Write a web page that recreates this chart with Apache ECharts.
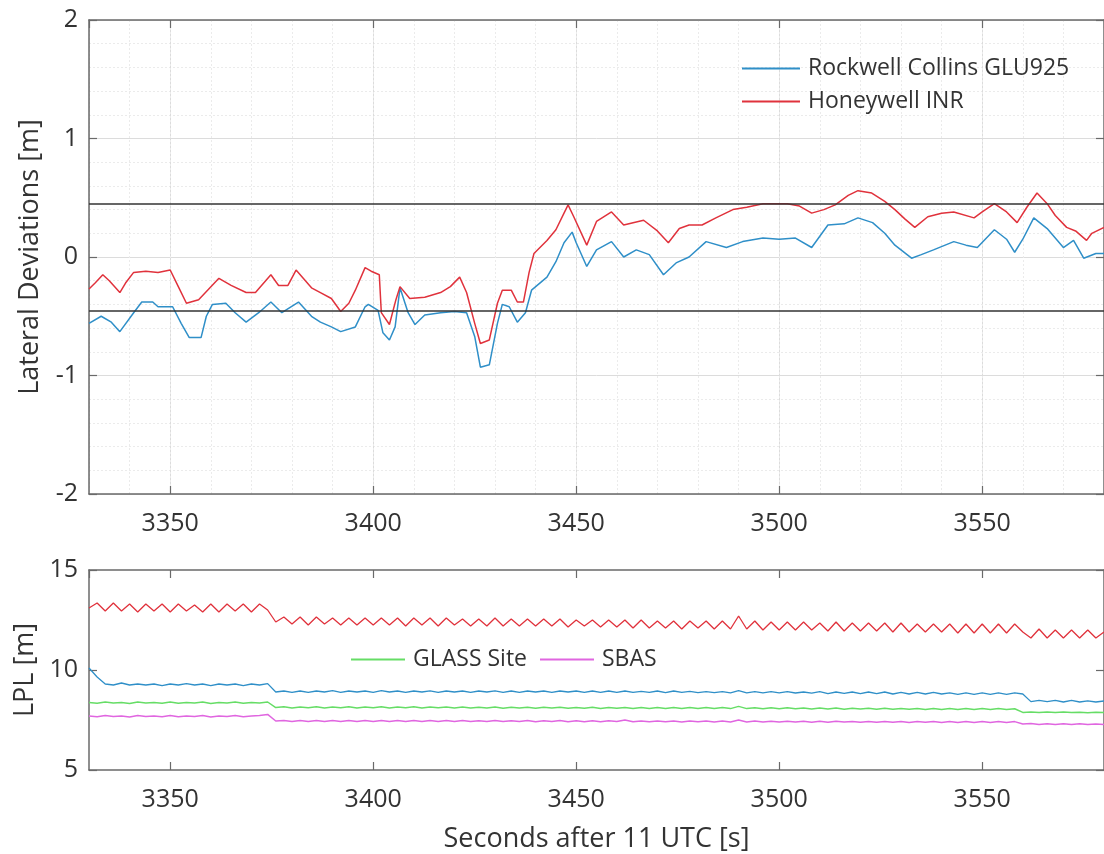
<!DOCTYPE html>
<html>
<head>
<meta charset="utf-8">
<title>Lateral Deviations / LPL</title>
<script src="https://cdn.jsdelivr.net/npm/echarts@6.0.0/dist/echarts.min.js"></script>
<style>
  html, body { margin: 0; padding: 0; background: #fff; }
  #chart { width: 1104px; height: 854px; }
</style>
</head>
<body>
<div id="chart"></div>
<script>
// lateral deviations, top panel [s] / [m]
const devTimeBlue = [3330,3333,3335.5,3337.6,3341,3343,3345.7,3347,3350.6,3352.7,3354.7,3357.6,3358.9,3360.4,3363.7,3366,3368.7,3371.8,3374.8,3377.5,
  3381.6,3384.8,3387,3389.7,3392,3395.6,3398,3398.8,3401.2,3402.4,3404,3405.4,3406.6,3408.6,3410.3,3412.7,3416.6,3420,3423,3425,
  3426.4,3428.6,3430.6,3431.8,3433.5,3435.5,3437.5,3439,3442.8,3445,3447,3449,3450,3452.6,3455,3458.7,3461.7,3464.8,3468,3471.5,
  3474.6,3477.8,3482,3487,3491,3496,3500,3504,3508,3512,3516,3519.4,3523,3526,3528.5,3532.6,3535,3538,3543,3546,
  3548.8,3553,3556,3558,3560,3562.7,3566,3570,3572.5,3575,3578,3580]
const devBlue = [-0.56,-0.50,-0.55,-0.63,-0.47,-0.38,-0.38,-0.42,-0.42,-0.56,-0.68,-0.68,-0.50,-0.40,-0.39,-0.47,-0.55,-0.47,-0.38,-0.47,
  -0.38,-0.50,-0.55,-0.59,-0.63,-0.59,-0.42,-0.40,-0.45,-0.64,-0.70,-0.59,-0.26,-0.47,-0.57,-0.49,-0.47,-0.46,-0.47,-0.67,
  -0.93,-0.91,-0.56,-0.40,-0.42,-0.55,-0.47,-0.28,-0.17,-0.04,0.12,0.21,0.12,-0.08,0.06,0.13,0.00,0.06,0.02,-0.15,
  -0.05,0.00,0.13,0.08,0.13,0.16,0.15,0.16,0.08,0.27,0.28,0.33,0.29,0.20,0.10,-0.01,0.02,0.06,0.13,0.10,
  0.08,0.23,0.15,0.04,0.15,0.33,0.24,0.08,0.14,-0.01,0.03,0.03]

const devTimeRed = [3330,3331.5,3333.4,3335,3337.6,3339,3341,3344,3347,3350,3352,3354,3357,3359.5,3362,3365,3368.7,3371,3374.8,3376.7,
  3379,3381,3384.8,3387,3389.7,3392,3394,3395.6,3398,3399.5,3401.5,3402,3404,3405.6,3406.6,3409,3412.7,3416.6,3419,3421.3,
  3423,3425,3426.4,3428.6,3430.6,3431.8,3434,3435.5,3437,3438.4,3439.6,3442.8,3445,3447,3448,3449.4,3452.6,3455,3458.7,3461.7,
  3466.6,3470,3472.7,3475.4,3477.8,3481,3484.4,3488.6,3492,3496,3502,3505,3508,3511,3513.8,3517,3519.4,3522.8,3526,3528.5,
  3531,3533.4,3536.6,3540,3543,3548,3550,3553,3556,3558.6,3561,3563.5,3566,3568,3570.8,3573,3575.7,3577,3580]
const devRed = [-0.27,-0.22,-0.15,-0.20,-0.30,-0.22,-0.13,-0.12,-0.13,-0.11,-0.25,-0.39,-0.36,-0.27,-0.18,-0.24,-0.30,-0.30,-0.15,-0.24,
  -0.24,-0.11,-0.26,-0.30,-0.35,-0.46,-0.39,-0.28,-0.09,-0.12,-0.15,-0.47,-0.57,-0.36,-0.25,-0.35,-0.34,-0.30,-0.25,-0.17,
  -0.30,-0.56,-0.73,-0.70,-0.39,-0.28,-0.28,-0.38,-0.38,-0.13,0.03,0.14,0.23,0.37,0.44,0.34,0.10,0.30,0.38,0.27,
  0.31,0.22,0.12,0.24,0.27,0.27,0.33,0.40,0.42,0.45,0.45,0.43,0.37,0.40,0.44,0.52,0.56,0.54,0.47,0.40,
  0.32,0.25,0.34,0.37,0.38,0.33,0.38,0.45,0.38,0.29,0.42,0.54,0.45,0.35,0.25,0.22,0.14,0.20,0.25]

// limits drawn as black lines
const alertLimits = [0.45, -0.45]

// LPL, bottom panel
const lplTime = [3330,3332,3334,3336,3338,3340,3342,3344,3346,3348,
  3350,3352,3354,3356,3358,3360,3362,3364,3366,3368,
  3370,3372,3374,3376,3378,3380,3382,3384,3386,3388,
  3390,3392,3394,3396,3398,3400,3402,3404,3406,3408,
  3410,3412,3414,3416,3418,3420,3422,3424,3426,3428,
  3430,3432,3434,3436,3438,3440,3442,3444,3446,3448,
  3450,3452,3454,3456,3458,3460,3462,3464,3466,3468,
  3470,3472,3474,3476,3478,3480,3482,3484,3486,3488,
  3490,3492,3494,3496,3498,3500,3502,3504,3506,3508,
  3510,3512,3514,3516,3518,3520,3522,3524,3526,3528,
  3530,3532,3534,3536,3538,3540,3542,3544,3546,3548,
  3550,3552,3554,3556,3558,3560,3562,3564,3566,3568,
  3570,3572,3574,3576,3578,3580]
const lplRed = [13.1,13.35,12.95,13.35,12.95,13.3,12.9,13.3,12.95,13.3,
  12.9,13.3,12.95,13.25,12.9,13.3,12.9,13.3,12.95,13.3,
  12.9,13.3,13.0,12.4,12.65,12.3,12.65,12.25,12.65,12.3,
  12.6,12.25,12.6,12.25,12.6,12.25,12.6,12.25,12.6,12.2,
  12.6,12.25,12.6,12.2,12.6,12.25,12.55,12.2,12.55,12.2,
  12.6,12.2,12.55,12.2,12.55,12.2,12.55,12.2,12.55,12.15,
  12.5,12.2,12.5,12.15,12.5,12.15,12.5,12.1,12.5,12.1,
  12.45,12.1,12.45,12.05,12.45,12.1,12.45,12.05,12.45,12.05,
  12.7,12.05,12.45,12.0,12.4,12.0,12.4,12.0,12.4,12.0,
  12.35,11.95,12.4,11.95,12.35,11.95,12.35,11.95,12.35,11.9,
  12.35,11.9,12.3,11.9,12.3,11.9,12.3,11.85,12.3,11.85,
  12.3,11.85,12.3,11.85,12.3,11.9,11.6,12.05,11.6,12.0,
  11.6,12.0,11.6,12.0,11.6,11.9]
const lplBlue = [10.1,9.65,9.3,9.25,9.35,9.25,9.3,9.25,9.3,9.22,
  9.3,9.25,9.32,9.25,9.3,9.22,9.3,9.25,9.3,9.22,
  9.3,9.25,9.32,8.9,8.95,8.88,8.95,8.88,8.95,8.9,
  8.97,8.88,8.95,8.9,8.95,8.88,8.97,8.9,8.95,8.88,
  8.95,8.9,8.96,8.88,8.95,8.9,8.95,8.88,8.95,8.9,
  8.96,8.88,8.95,8.88,8.95,8.9,8.95,8.88,8.95,8.9,
  8.95,8.88,8.95,8.88,8.95,8.88,8.95,8.88,8.93,8.88,
  8.95,8.87,8.95,8.88,8.93,8.87,8.92,8.87,8.92,8.86,
  8.97,8.86,8.92,8.86,8.92,8.86,8.92,8.85,8.9,8.84,
  8.92,8.82,8.9,8.83,8.9,8.82,8.9,8.82,8.9,8.8,
  8.88,8.8,8.88,8.8,8.88,8.8,8.86,8.78,8.86,8.78,
  8.86,8.78,8.86,8.78,8.86,8.8,8.42,8.48,8.42,8.48,
  8.4,8.48,8.4,8.46,8.4,8.45]
const lplGlass = [8.38,8.34,8.4,8.35,8.38,8.33,8.4,8.35,8.38,8.34,
  8.4,8.34,8.38,8.35,8.4,8.33,8.38,8.35,8.4,8.34,
  8.38,8.35,8.4,8.12,8.16,8.1,8.15,8.11,8.16,8.1,
  8.15,8.11,8.16,8.1,8.15,8.11,8.16,8.1,8.15,8.11,
  8.16,8.1,8.15,8.11,8.15,8.1,8.15,8.1,8.14,8.1,
  8.15,8.09,8.14,8.1,8.14,8.09,8.14,8.1,8.14,8.09,
  8.13,8.09,8.14,8.08,8.13,8.09,8.13,8.08,8.13,8.08,
  8.12,8.08,8.13,8.07,8.12,8.08,8.12,8.07,8.12,8.07,
  8.18,8.07,8.11,8.06,8.11,8.06,8.11,8.06,8.1,8.05,
  8.1,8.05,8.1,8.04,8.09,8.05,8.09,8.04,8.09,8.04,
  8.08,8.04,8.08,8.03,8.08,8.03,8.07,8.03,8.07,8.03,
  8.07,8.02,8.07,8.03,8.06,7.88,7.9,7.87,7.9,7.87,
  7.9,7.87,7.89,7.86,7.89,7.87]
const lplSbas = [7.7,7.66,7.72,7.67,7.7,7.65,7.72,7.67,7.7,7.66,
  7.72,7.66,7.7,7.67,7.72,7.65,7.7,7.67,7.72,7.66,
  7.7,7.72,7.78,7.45,7.48,7.43,7.47,7.43,7.48,7.42,
  7.47,7.43,7.48,7.42,7.47,7.43,7.48,7.42,7.47,7.43,
  7.48,7.42,7.47,7.43,7.47,7.42,7.47,7.42,7.46,7.42,
  7.47,7.42,7.46,7.42,7.47,7.41,7.46,7.42,7.47,7.41,
  7.46,7.41,7.46,7.41,7.46,7.42,7.5,7.41,7.45,7.41,
  7.45,7.41,7.45,7.4,7.45,7.41,7.45,7.4,7.45,7.4,
  7.5,7.4,7.45,7.4,7.44,7.4,7.44,7.4,7.44,7.39,
  7.44,7.39,7.44,7.4,7.43,7.39,7.43,7.39,7.43,7.39,
  7.43,7.38,7.43,7.39,7.43,7.38,7.42,7.38,7.42,7.38,
  7.42,7.38,7.42,7.38,7.42,7.3,7.32,7.28,7.31,7.28,
  7.31,7.28,7.31,7.27,7.3,7.28]

const BLUE = "#2f8fc8"
const RED = "#e0323c"
const GREEN = "#66dd66"
const MAGENTA = "#e066e0"
const FONT = "Open Sans"
const AXIS_COLOR = "#6a6a6a"
const TEXT_COLOR = "#333"

const zip = (xs, ys) => xs.map((x, i) => [x, ys[i]])

const boxLine = {show: true, onZero: false, lineStyle: {color: AXIS_COLOR, width: 1.5}}
const inTick = {show: true, inside: true, length: 8, lineStyle: {color: AXIS_COLOR, width: 1.2}}
const tickLabel = {fontFamily: FONT, fontSize: 25, color: TEXT_COLOR}

// bottom x axis of a panel
const timeAxis = (gridIndex, withName, withGrid) => ({
    type: "value", gridIndex, position: "bottom", min: 3330, max: 3580,
    axisLine: boxLine, axisTick: inTick,
    axisLabel: Object.assign({margin: 17, showMinLabel: false, showMaxLabel: false,
        formatter: v => String(v)}, tickLabel),
    splitLine: {show: withGrid, lineStyle: {color: "#dcdcdc", width: 1}},
    name: withName ? "Seconds after 11 UTC [s]" : "",
    nameLocation: "middle", nameGap: 56,
    nameTextStyle: {fontFamily: FONT, fontSize: 27, color: TEXT_COLOR}
})
// top border with ticks only
const topAxis = gridIndex => ({
    type: "value", gridIndex, position: "top", min: 3330, max: 3580,
    axisLine: boxLine, axisTick: inTick, axisLabel: {show: false}, splitLine: {show: false}
})

const chart = echarts.init(document.getElementById("chart"))

const option = {
    animation: false,
    backgroundColor: "#fff",
    grid: [
        {left: 89, top: 20, width: 1022, height: 474},
        {left: 89, top: 570, width: 1022, height: 201}
    ],
    legend: [
        {
            data: ["Rockwell Collins GLU925", "Honeywell INR"],
            orient: "vertical", left: 737, top: 52,
            icon: "rect", itemWidth: 58, itemHeight: 2, itemGap: 10,
            textStyle: {fontFamily: FONT, fontSize: 23, color: TEXT_COLOR, padding: [0, 0, 0, 3]}
        },
        {
            data: ["GLASS Site", "SBAS"],
            orient: "horizontal", left: 346, top: 643,
            icon: "rect", itemWidth: 54, itemHeight: 2, itemGap: 13,
            textStyle: {fontFamily: FONT, fontSize: 23, color: TEXT_COLOR, padding: [0, 0, 0, 3]}
        }
    ],
    xAxis: [
        timeAxis(0, false, true),
        // minor vertical grid, every 10 s
        {
            type: "value", gridIndex: 0, position: "bottom", min: 3330, max: 3580, interval: 10,
            axisLine: {show: false}, axisTick: {show: false}, axisLabel: {show: false},
            splitLine: {show: true, lineStyle: {color: "#ebebeb", width: 1, type: [2, 2]}}
        },
        topAxis(0),
        timeAxis(1, true, false),
        topAxis(1)
    ],
    yAxis: [
        {
            type: "value", gridIndex: 0, position: "left", min: -2, max: 2, interval: 1,
            axisLine: boxLine, axisTick: inTick,
            axisLabel: Object.assign({margin: 11}, tickLabel),
            splitLine: {show: true, lineStyle: {color: "#dcdcdc", width: 1}},
            minorTick: {show: false, splitNumber: 5},
            minorSplitLine: {show: true, lineStyle: {color: "#ebebeb", width: 1, type: [2, 2]}},
            name: "Lateral Deviations [m]", nameLocation: "middle", nameGap: 45,
            nameTextStyle: {fontFamily: FONT, fontSize: 27, color: TEXT_COLOR}
        },
        {
            type: "value", gridIndex: 0, position: "right", min: -2, max: 2, interval: 1,
            axisLine: boxLine, axisTick: inTick, axisLabel: {show: false}, splitLine: {show: false}
        },
        {
            type: "value", gridIndex: 1, position: "left", min: 5, max: 15, interval: 5,
            axisLine: boxLine, axisTick: inTick,
            axisLabel: Object.assign({margin: 11}, tickLabel),
            splitLine: {show: false},
            name: "LPL [m]", nameLocation: "middle", nameGap: 45,
            nameTextStyle: {fontFamily: FONT, fontSize: 27, color: TEXT_COLOR}
        },
        {
            type: "value", gridIndex: 1, position: "right", min: 5, max: 15, interval: 5,
            axisLine: boxLine, axisTick: inTick, axisLabel: {show: false}, splitLine: {show: false}
        }
    ],
    series: [
        {
            name: "Rockwell Collins GLU925", type: "line", xAxisIndex: 0, yAxisIndex: 0,
            data: zip(devTimeBlue, devBlue), symbol: "none",
            lineStyle: {color: BLUE, width: 1.5}, itemStyle: {color: BLUE},
            markLine: {
                silent: true, symbol: "none", label: {show: false},
                lineStyle: {color: "#333", width: 1.6, type: "solid"},
                data: alertLimits.map(v => ({yAxis: v}))
            }
        },
        {
            name: "Honeywell INR", type: "line", xAxisIndex: 0, yAxisIndex: 0,
            data: zip(devTimeRed, devRed), symbol: "none",
            lineStyle: {color: RED, width: 1.5}, itemStyle: {color: RED}
        },
        {
            name: "Honeywell INR", type: "line", xAxisIndex: 3, yAxisIndex: 2,
            data: zip(lplTime, lplRed), symbol: "none",
            lineStyle: {color: RED, width: 1.3}, itemStyle: {color: RED}
        },
        {
            name: "Rockwell Collins GLU925", type: "line", xAxisIndex: 3, yAxisIndex: 2,
            data: zip(lplTime, lplBlue), symbol: "none",
            lineStyle: {color: BLUE, width: 1.3}, itemStyle: {color: BLUE}
        },
        {
            name: "GLASS Site", type: "line", xAxisIndex: 3, yAxisIndex: 2,
            data: zip(lplTime, lplGlass), symbol: "none",
            lineStyle: {color: GREEN, width: 1.5}, itemStyle: {color: GREEN}
        },
        {
            name: "SBAS", type: "line", xAxisIndex: 3, yAxisIndex: 2,
            data: zip(lplTime, lplSbas), symbol: "none",
            lineStyle: {color: MAGENTA, width: 1.5}, itemStyle: {color: MAGENTA}
        }
    ]
}

chart.setOption(option)
</script>
</body>
</html>
